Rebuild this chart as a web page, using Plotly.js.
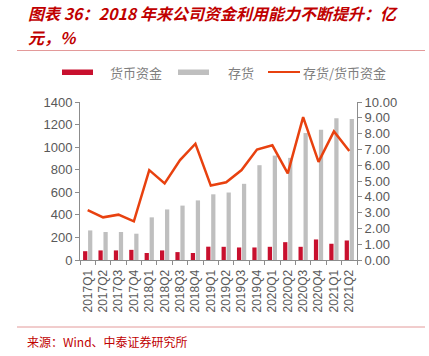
<!DOCTYPE html>
<html><head><meta charset="utf-8">
<script src="https://cdn.plot.ly/plotly-3.0.1.min.js"></script>
<style>html,body{margin:0;padding:0;background:#fff}#c{width:429px;height:356px}</style>
</head><body><div id="c"></div>
<script>
const quarters = ['2017Q1','2017Q2','2017Q3','2017Q4','2018Q1','2018Q2','2018Q3','2018Q4','2019Q1','2019Q2','2019Q3','2019Q4','2020Q1','2020Q2','2020Q3','2020Q4','2021Q1','2021Q2'];
const cash = [78, 85, 85, 90, 62, 85, 70, 62, 118, 117, 111, 111, 117, 158, 117, 182, 144, 173];
const inventory = [262, 248, 248, 233, 378, 448, 482, 528, 582, 598, 675, 840, 925, 905, 1125, 1155, 1256, 1250];
const ratio = [3.16, 2.70, 2.87, 2.45, 5.69, 4.85, 6.32, 7.36, 4.71, 4.92, 5.69, 6.99, 7.26, 5.48, 9.04, 6.21, 8.14, 6.90];
const leftTicks = [0,200,400,600,800,1000,1200,1400];
const rightTicks = [0,1,2,3,4,5,6,7,8,9,10];

const RED = '#C8102E', GRAY = '#BFBFBF', LINE = '#E8410F', AX = '#8C8C8C', TXT = '#595959';
const cjk = '"Noto Sans CJK SC", "Noto Sans", sans-serif';
const px = x => (x-80)/277, py = y => (260-y)/158;

const data = [
  {type:'bar', x:quarters, y:cash, name:'货币资金', marker:{color:RED}, showlegend:false, hoverinfo:'skip'},
  {type:'bar', x:quarters, y:inventory, name:'存货', marker:{color:GRAY}, showlegend:false, hoverinfo:'skip'},
  {type:'scatter', mode:'lines', x:quarters, y:ratio, yaxis:'y2', name:'存货/货币资金', line:{color:LINE, width:2.5}, showlegend:false, hoverinfo:'skip'}
];

const titleFont = {family:cjk, size:16, color:'#C00000', weight:'bold', style:'italic'};
const layout = {
  width:429, height:356,
  margin:{l:80, r:72, t:102, b:96},
  paper_bgcolor:'#fff', plot_bgcolor:'#fff',
  font:{family:'"Liberation Sans", Arial, sans-serif', size:13, color:TXT},
  barmode:'group', bargap:0.35, bargroupgap:0.15,
  xaxis:{type:'category', tickmode:'array', tickvals:quarters, ticktext:quarters, tickangle:-90,
         showline:true, linecolor:AX, linewidth:1, ticklabelstandoff:4,
         ticks:'outside', tickson:'boundaries', ticklen:4, tickcolor:AX,
         tickfont:{size:12, color:TXT}, showgrid:false, zeroline:false},
  yaxis:{range:[0,1400], tickvals:leftTicks, showline:true, linecolor:AX, linewidth:1,
         ticks:'outside', ticklen:4, tickcolor:AX, showgrid:false, zeroline:false,
         tickfont:{size:13, color:TXT}},
  yaxis2:{range:[0,10], tickvals:rightTicks, tickformat:'.2f', overlaying:'y', side:'right',
          showline:true, linecolor:AX, linewidth:1, ticks:'outside', ticklen:4, tickcolor:AX,
          showgrid:false, zeroline:false, tickfont:{size:13, color:TXT}},
  shapes:[
    {type:'line', xref:'paper', yref:'paper', x0:px(17), x1:px(425), y0:py(50.5), y1:py(50.5), line:{color:'#E39A9A', width:1}},
    {type:'line', xref:'paper', yref:'paper', x0:px(17), x1:px(425), y0:py(327), y1:py(327), line:{color:'#E39A9A', width:1}},
    {type:'rect', xref:'paper', yref:'paper', x0:px(62), x1:px(93), y0:py(75), y1:py(69.5), fillcolor:RED, line:{width:0}},
    {type:'rect', xref:'paper', yref:'paper', x0:px(178), x1:px(209), y0:py(75), y1:py(69.5), fillcolor:GRAY, line:{width:0}},
    {type:'line', xref:'paper', yref:'paper', x0:px(268), x1:px(300), y0:py(72), y1:py(72), line:{color:LINE, width:2}}
  ],
  annotations:[
    {xref:'paper', yref:'paper', x:px(26), y:py(13), xanchor:'left', yanchor:'middle', align:'left', showarrow:false,
     text:'图表 36：2018 年来公司资金利用能力不断提升：亿', font:titleFont},
    {xref:'paper', yref:'paper', x:px(26), y:py(37), xanchor:'left', yanchor:'middle', align:'left', showarrow:false,
     text:'元，%', font:titleFont},
    {xref:'paper', yref:'paper', x:px(108), y:py(72), xanchor:'left', yanchor:'middle', showarrow:false,
     text:'货币资金', font:{family:cjk, size:13, color:'#7F7F7F'}},
    {xref:'paper', yref:'paper', x:px(226), y:py(72), xanchor:'left', yanchor:'middle', showarrow:false,
     text:'存货', font:{family:cjk, size:13, color:'#7F7F7F'}},
    {xref:'paper', yref:'paper', x:px(301), y:py(72), xanchor:'left', yanchor:'middle', showarrow:false,
     text:'存货/货币资金', font:{family:cjk, size:13, color:'#7F7F7F'}},
    {xref:'paper', yref:'paper', x:px(25), y:py(341), xanchor:'left', yanchor:'middle', showarrow:false,
     text:'来源：Wind、中泰证券研究所', font:{family:cjk, size:12, color:'#C00000'}}
  ]
};
Plotly.newPlot('c', data, layout, {displayModeBar:false, staticPlot:true});
</script></body></html>
